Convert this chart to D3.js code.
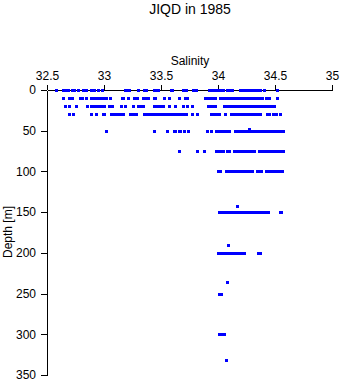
<!DOCTYPE html>
<html><head><meta charset="utf-8">
<script src="https://cdn.jsdelivr.net/npm/d3@7"></script>
<style>body{margin:0;background:#fff}svg{display:block}text{font-family:"Liberation Sans",Arial,sans-serif}</style>
</head><body>
<script>
const titleText = "JIQD in 1985";
const xLabel = "Salinity";
const yLabel = "Depth [m]";
const xTicks = [32.5, 33, 33.5, 34, 34.5, 35];
const xTickLabels = ["32.5", "33", "33.5", "34", "34.5", "35"];
const yTicks = [0, 50, 100, 150, 200, 250, 300, 350];
const yTickLabels = ["0", "50", "100", "150", "200", "250", "300", "350"];

const depths = [0, 10, 20, 30, 48, 50, 75, 100, 142, 150, 190, 200, 236, 250, 300, 332];
const sal0 = [32.58,32.64,32.66,32.68,32.72,32.74,32.77,32.82,32.84,32.89,32.91,32.95,32.98,33.18,33.20,33.22,33.30,33.35,33.37,33.44,33.46,33.47,33.59,33.60,33.69,33.72,33.78,33.81,33.92,33.94,33.96,33.98,34.00,34.02,34.04,34.08,34.10,34.12,34.19,34.21,34.23,34.25,34.27,34.29,34.31,34.33,34.35,34.37,34.40,34.52];
const sal10 = [32.64,32.69,32.72,32.79,32.81,32.84,32.89,32.91,32.93,32.95,32.97,32.99,33.02,33.05,33.16,33.17,33.21,33.26,33.29,33.34,33.36,33.39,33.44,33.45,33.53,33.57,33.66,33.71,33.73,33.89,33.91,33.93,33.95,33.97,34.02,34.04,34.06,34.08,34.10,34.12,34.14,34.16,34.18,34.20,34.22,34.24,34.26,34.28,34.30,34.32,34.34,34.36,34.38,34.39,34.42,34.45,34.52];
const sal20 = [32.66,32.69,32.75,32.85,32.89,32.91,32.93,32.95,32.97,33.00,33.04,33.07,33.15,33.18,33.25,33.30,33.32,33.34,33.44,33.46,33.48,33.50,33.52,33.57,33.62,33.69,33.73,33.77,33.91,33.93,33.95,33.97,34.05,34.07,34.09,34.11,34.13,34.15,34.17,34.19,34.21,34.23,34.25,34.27,34.29,34.31,34.33,34.35,34.37,34.39,34.41,34.43,34.45,34.47,34.49];
const sal30 = [32.69,32.73,32.89,32.93,32.99,33.00,33.06,33.08,33.10,33.12,33.14,33.17,33.23,33.25,33.28,33.35,33.37,33.39,33.41,33.43,33.45,33.47,33.49,33.51,33.53,33.55,33.57,33.59,33.61,33.63,33.65,33.67,33.69,33.71,33.72,33.77,33.82,33.94,33.96,33.98,34.01,34.06,34.11,34.13,34.15,34.17,34.19,34.21,34.23,34.25,34.27,34.29,34.31,34.33,34.35,34.37,34.43,34.45,34.48,34.51,34.54];
const sal48 = [34.27];
const sal50 = [33.02,33.44,33.55,33.61,33.62,33.66,33.67,33.70,33.74,33.90,33.94,33.98,34.00,34.02,34.04,34.06,34.08,34.10,34.15,34.17,34.19,34.21,34.23,34.25,34.27,34.29,34.31,34.33,34.35,34.37,34.39,34.41,34.43,34.45,34.47,34.49,34.51,34.53,34.55,34.57];
const sal75 = [33.66,33.82,33.88,33.98,34.00,34.02,34.04,34.08,34.10,34.14,34.16,34.18,34.20,34.22,34.24,34.26,34.28,34.30,34.32,34.36,34.38,34.40,34.42,34.44,34.46,34.48,34.50,34.52,34.54,34.57];
const sal100 = [34.00,34.02,34.07,34.09,34.11,34.13,34.15,34.17,34.19,34.21,34.23,34.25,34.27,34.30,34.34,34.36,34.38,34.42,34.44,34.46,34.48,34.50,34.52,34.54,34.56];
const sal142 = [34.17];
const sal150 = [34.01,34.03,34.05,34.07,34.09,34.11,34.13,34.15,34.17,34.19,34.21,34.23,34.25,34.27,34.29,34.31,34.33,34.35,34.37,34.39,34.41,34.44,34.54,34.55];
const sal190 = [34.09];
const sal200 = [34.00,34.02,34.04,34.06,34.08,34.10,34.12,34.14,34.16,34.18,34.20,34.23,34.35,34.37];
const sal236 = [34.08];
const sal250 = [34.01,34.03];
const sal300 = [34.01,34.03,34.05];
const sal332 = [34.07];
const salinityByDepth = [sal0,sal10,sal20,sal30,sal48,sal50,sal75,sal100,sal142,sal150,sal190,sal200,sal236,sal250,sal300,sal332];

const points = [];
depths.forEach((d, i) => salinityByDepth[i].forEach(s => points.push({s, d})));

const W = 341, H = 384;
const svg = d3.select("body").append("svg").attr("width", W).attr("height", H);
svg.append("rect").attr("width", W).attr("height", H).attr("fill", "#fff");

const x = d3.scaleLinear().domain([32.5, 35]).range([47, 332]);
const y = d3.scaleLinear().domain([0, 350]).range([90, 375]);

svg.append("text").attr("x", 190).attr("y", 14).attr("text-anchor", "middle")
  .attr("font-size", 14).text(titleText);
svg.append("text").attr("x", 190).attr("y", 65).attr("text-anchor", "middle")
  .attr("font-size", 12).text(xLabel);
svg.append("text").attr("transform", "translate(12,232) rotate(-90)").attr("text-anchor", "middle")
  .attr("font-size", 12).text(yLabel);

const xAxis = svg.append("g").attr("transform", "translate(0,90)")
  .call(d3.axisTop(x).tickValues(xTicks).tickFormat((d, i) => xTickLabels[i]).tickSize(5).tickSizeOuter(0).tickPadding(5));
const yAxis = svg.append("g").attr("transform", "translate(47,0)")
  .call(d3.axisLeft(y).tickValues(yTicks).tickFormat((d, i) => yTickLabels[i]).tickSize(6).tickSizeOuter(0).tickPadding(5));
[xAxis, yAxis].forEach(g => {
  g.selectAll("text").attr("font-size", 12).attr("font-family", '"Liberation Sans",Arial,sans-serif').attr("fill", "#000");
  g.selectAll("line,path").attr("stroke", "#000").attr("shape-rendering", "crispEdges");
});

svg.append("g").selectAll("rect").data(points).join("rect")
  .attr("x", p => Math.round(x(p.s)) - 1.5 + 0.5)
  .attr("y", p => Math.round(y(p.d)) - 1)
  .attr("width", 3).attr("height", 3)
  .attr("fill", "#0000ff").attr("shape-rendering", "crispEdges");
</script>
</body></html>
